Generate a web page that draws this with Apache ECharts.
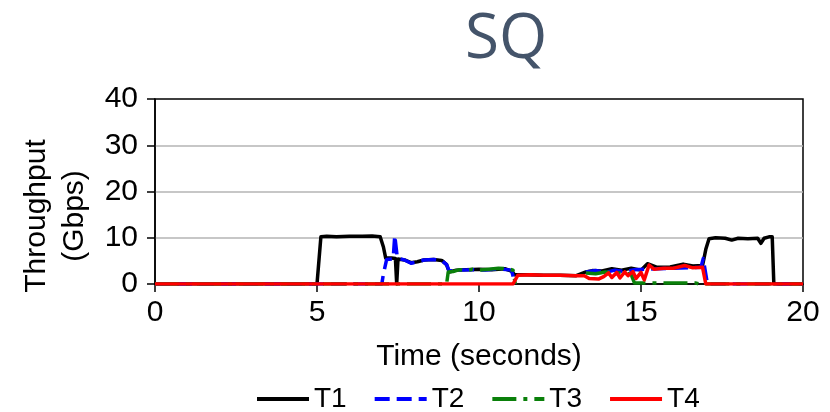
<!DOCTYPE html>
<html>
<head>
<meta charset="utf-8">
<script src="https://cdn.jsdelivr.net/npm/echarts@6/dist/echarts.min.js"></script>
<style>
  html, body { margin: 0; padding: 0; background: #ffffff; }
  #chart { width: 830px; height: 412px; }
</style>
</head>
<body>
<div id="chart"></div>
<script>
// Axis ticks
const xTicks = [0, 5, 10, 15, 20];
const yTicks = [0, 10, 20, 30, 40];

// Flow T1 (seconds, Gbps)
const t1Time = [0, 5.0, 5.12, 5.3, 5.6, 6.0, 6.4, 6.7, 6.95, 7.05, 7.12, 7.3, 7.42, 7.46, 7.5, 7.7, 7.9, 8.1, 8.3, 8.6, 8.85, 9.0, 9.08,
  9.3, 9.6, 10.0, 10.4, 10.8, 11.0, 11.1, 11.5, 12.0, 12.5, 13.0, 13.3, 13.5, 13.8, 14.1, 14.4, 14.7, 15.0, 15.2, 15.5, 15.9, 16.3, 16.6, 16.9,
  17.0, 17.1, 17.3, 17.6, 17.8, 18.0, 18.3, 18.6, 18.7, 18.8, 18.95, 19.05, 19.1, 20];
const t1Gbps = [0, 0, 10.2, 10.3, 10.2, 10.3, 10.3, 10.4, 10.2, 8.0, 5.6, 5.6, 5.5, 0, 5.4, 5.2, 4.6, 4.8, 5.2, 5.3, 5.1, 4.2, 2.6,
  3.0, 3.1, 3.2, 3.1, 3.3, 2.8, 2.0, 2.0, 1.9, 1.9, 1.8, 2.6, 2.9, 2.8, 3.3, 3.0, 3.4, 3.0, 4.4, 3.6, 3.7, 4.3, 3.9, 4.0,
  7.5, 9.8, 10.0, 9.9, 9.5, 9.9, 9.8, 9.9, 8.8, 9.9, 10.2, 10.2, 0, 0];

// Flow T2
const t2Time = [0, 7.0, 7.05, 7.15, 7.35, 7.4, 7.48, 7.7, 7.9, 8.1, 8.3, 8.6, 8.85, 9.0, 9.08, 9.4, 9.8, 10.2, 10.6, 11.0, 11.12,
  12.2, 13.3, 13.6, 13.9, 14.2, 14.5, 14.8, 15.1, 15.5, 16.0, 16.5, 16.85, 16.92, 17.05, 20];
const t2Gbps = [0, 0, 2.2, 5.3, 5.4, 10.5, 5.6, 5.2, 4.5, 4.8, 5.2, 5.3, 5.1, 4.2, 2.8, 3.0, 3.1, 3.0, 3.3, 3.0, 0,
  null, 2.6, 2.9, 2.5, 3.0, 2.7, 3.1, 3.2, 3.3, 3.4, 3.5, 3.6, 5.5, 0, 0];

// Flow T3
const t3Time = [0, 9.0, 9.05, 9.2, 9.4, 9.6, 9.8, 10.0, 10.3, 10.6, 10.9, 11.05, 11.12,
  12.2, 13.3, 13.6, 13.9, 14.2, 14.5, 14.7, 14.8, 15.5, 16.0, 16.7, 16.8, 20];
const t3Gbps = [0, 0, 2.6, 2.7, 3.1, 2.9, 3.2, 3.0, 3.2, 3.4, 3.3, 3.0, 0,
  null, 2.4, 2.2, 2.6, 2.3, 2.5, 2.0, 0.2, 0.2, 0.2, 0.2, 0, 0];

// Flow T4
const t4Time = [0, 11.05, 11.2, 11.6, 12.0, 12.5, 13.0, 13.25, 13.4, 13.7, 13.85, 14.0, 14.1, 14.25, 14.35, 14.5, 14.6, 14.75, 14.85,
  15.0, 15.1, 15.25, 15.4, 15.7, 16.0, 16.35, 16.6, 16.9, 17.0, 20];
const t4Gbps = [0, 0, 1.9, 2.0, 1.9, 1.9, 1.8, 1.8, 1.2, 1.1, 1.6, 2.4, 1.4, 2.5, 1.3, 2.6, 1.8, 2.7, 1.2,
  2.5, 0.9, 4.1, 3.2, 3.4, 3.4, 4.0, 3.5, 3.6, 0, 0];

const seriesNames = ['T1', 'T2', 'T3', 'T4'];
const seriesColors = ['#000000', '#0000ff', '#0a800a', '#ff0000'];
const seriesDash = ['solid', [15, 7], [24, 7, 4, 7], 'solid'];

const pairs = (ts, vs) => ts.map((t, i) => [t, vs[i]]);
const seriesData = [pairs(t1Time, t1Gbps), pairs(t2Time, t2Gbps), pairs(t3Time, t3Gbps), pairs(t4Time, t4Gbps)];

const font = 'Liberation Sans, Arial, Helvetica, sans-serif';
const chart = echarts.init(document.getElementById('chart'), null, { renderer: 'canvas' });

chart.setOption({
  animation: false,
  backgroundColor: '#ffffff',
  title: {
    text: 'SQ',
    left: 501,
    top: 4,
    textAlign: 'center',
    textStyle: { fontFamily: 'Open Sans, Noto Sans, sans-serif', fontSize: 62, fontWeight: 'normal', color: '#44546a' }
  },
  grid: {
    left: 155, right: 27, top: 99, bottom: 128,
    show: true, borderColor: '#000000', borderWidth: 1.5, backgroundColor: 'transparent'
  },
  legend: {
    left: 250,
    top: 380,
    itemWidth: 52,
    itemHeight: 14,
    itemGap: 26,
    data: seriesNames,
    textStyle: { fontFamily: font, fontSize: 28, color: '#000000' },
    itemStyle: { opacity: 0 },
    lineStyle: { width: 4 }
  },
  xAxis: {
    type: 'value',
    min: xTicks[0],
    max: xTicks[xTicks.length - 1],
    interval: 5,
    name: 'Time (seconds)',
    nameLocation: 'middle',
    nameGap: 58,
    nameTextStyle: { fontFamily: font, fontSize: 30, color: '#000000' },
    axisLine: { lineStyle: { color: '#000000', width: 1.5 } },
    axisTick: { show: true, inside: false, length: 8, lineStyle: { color: '#000000', width: 1.5 } },
    axisLabel: { fontFamily: font, fontSize: 30, color: '#000000', margin: 14,
      formatter: v => xTicks.includes(v) ? String(v) : '' },
    splitLine: { show: false }
  },
  yAxis: {
    type: 'value',
    min: yTicks[0],
    max: yTicks[yTicks.length - 1],
    interval: 10,
    axisLine: { show: true, lineStyle: { color: '#000000', width: 1.5 } },
    axisTick: { show: true, inside: false, length: 8, lineStyle: { color: '#000000', width: 1.5 } },
    axisLabel: { fontFamily: font, fontSize: 30, color: '#000000', margin: 17,
      formatter: v => yTicks.includes(v) ? String(v) : '' },
    splitLine: { show: true, showMinLine: false, showMaxLine: false, lineStyle: { color: '#b4b4b4', width: 1.5 } }
  },
  graphic: [{
    type: 'text',
    x: 56,
    y: 216,
    rotation: Math.PI / 2,
    style: {
      text: 'Throughput\n(Gbps)',
      font: '30px ' + font,
      fill: '#000000',
      align: 'center',
      verticalAlign: 'middle',
      lineHeight: 38
    }
  }],
  series: seriesNames.map((name, i) => ({
    name,
    type: 'line',
    data: seriesData[i],
    showSymbol: false,
    symbol: 'none',
    connectNulls: false,
    smooth: false,
    color: seriesColors[i],
    lineStyle: { color: seriesColors[i], width: 3.5, type: seriesDash[i], cap: 'butt', join: 'round' },
    z: 2 + i
  }))
});
</script>
</body>
</html>
